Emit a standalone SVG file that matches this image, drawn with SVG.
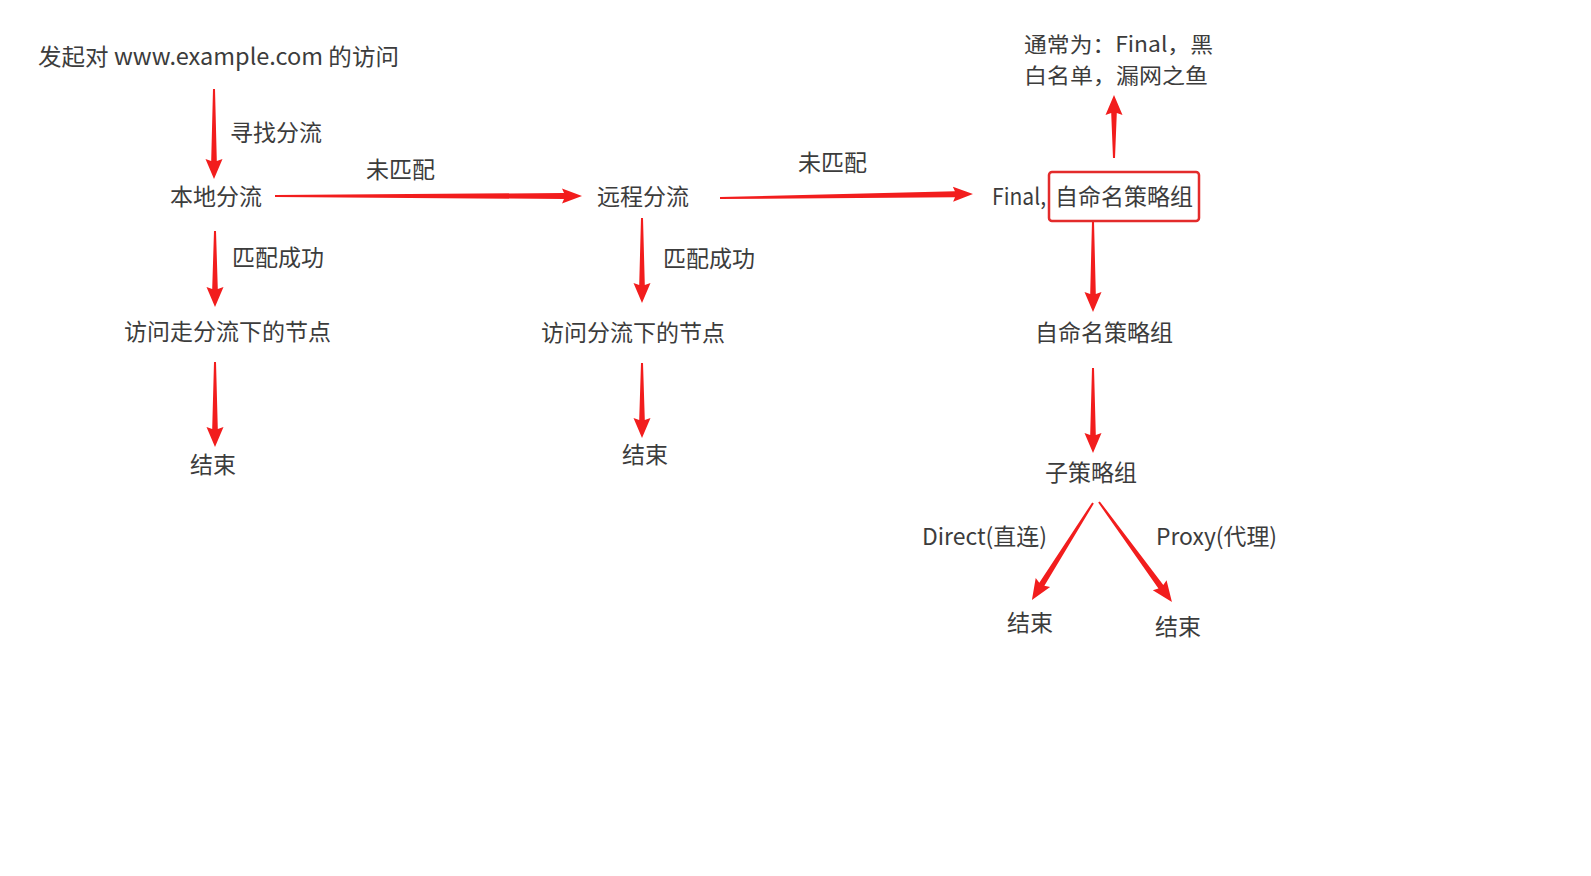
<svg xmlns="http://www.w3.org/2000/svg" width="1591" height="876" viewBox="0 0 1591 876">
<style>
text{font-family:"Noto Sans CJK SC","Microsoft YaHei",sans-serif;font-size:23px;fill:#3c3c3c}
.note{font-size:21px}
.arr{fill:#f21d1d}
</style>
<rect width="1591" height="876" fill="#fff"/>
<g id="connectors">
<polygon class="arr" transform="translate(214,89) rotate(90)" points="0,-1 72,-2.8 70,-8.5 90,0 70,8.5 72,2.8 0,1"/>
<polygon class="arr" transform="translate(275,196)" points="0,-1 289,-3 287,-7.5 307,0 287,7.5 289,3 0,1"/>
<polygon class="arr" transform="translate(720,198) rotate(-0.9)" points="0,-1 235,-3 233,-7.5 253,0 233,7.5 235,3 0,1"/>
<polygon class="arr" transform="translate(215,231) rotate(90)" points="0,-1 58,-2.8 56,-8.5 76,0 56,8.5 58,2.8 0,1"/>
<polygon class="arr" transform="translate(215,362) rotate(90)" points="0,-1 67,-2.8 65,-8.5 85,0 65,8.5 67,2.8 0,1"/>
<polygon class="arr" transform="translate(642,218) rotate(90)" points="0,-1 67,-2.8 65,-8.5 85,0 65,8.5 67,2.8 0,1"/>
<polygon class="arr" transform="translate(642,363) rotate(90)" points="0,-1 57,-2.8 55,-8.5 75,0 55,8.5 57,2.8 0,1"/>
<polygon class="arr" transform="translate(1114,158) rotate(-90)" points="0,-1 45,-2.8 43,-8.5 63,0 43,8.5 45,2.8 0,1"/>
<polygon class="arr" transform="translate(1093,221) rotate(90)" points="0,-1 73,-2.8 71,-8.5 91,0 71,8.5 73,2.8 0,1"/>
<polygon class="arr" transform="translate(1093,368) rotate(90)" points="0,-1 67,-2.8 65,-8.5 85,0 65,8.5 67,2.8 0,1"/>
<polygon class="arr" transform="translate(1093,503) rotate(122.2)" points="0,-1 96,-3 94,-8.5 114.6,0 94,8.5 96,3 0,1"/>
<polygon class="arr" transform="translate(1099,502) rotate(53.9)" points="0,-1 105,-3 103,-8.5 123.8,0 103,8.5 105,3 0,1"/>
</g>
<g id="start"><text x="38" y="65" textLength="361" lengthAdjust="spacingAndGlyphs">发起对 www.example.com 的访问</text></g>
<g id="label-find"><text x="230" y="141">寻找分流</text></g>
<g id="local"><text x="170" y="205">本地分流</text></g>
<g id="label-nomatch1"><text x="366" y="178">未匹配</text></g>
<g id="remote"><text x="597" y="205">远程分流</text></g>
<g id="label-nomatch2"><text x="798" y="171">未匹配</text></g>
<g id="final">
<text x="992" y="205" textLength="54" lengthAdjust="spacingAndGlyphs">Final,</text>
<rect x="1049" y="172" width="150" height="49" rx="3" fill="none" stroke="#e32b2b" stroke-width="2.5"/>
<text x="1055" y="205">自命名策略组</text>
</g>
<g id="note"><text class="note" x="1024" y="52" textLength="189" lengthAdjust="spacingAndGlyphs">通常为：Final，黑</text><text class="note" x="1024" y="83" textLength="184" lengthAdjust="spacingAndGlyphs">白名单，漏网之鱼</text></g>
<g id="label-match1"><text x="232" y="266">匹配成功</text></g>
<g id="local-node"><text x="124" y="340">访问走分流下的节点</text></g>
<g id="end1"><text x="190" y="473">结束</text></g>
<g id="label-match2"><text x="663" y="267">匹配成功</text></g>
<g id="remote-node"><text x="541" y="341">访问分流下的节点</text></g>
<g id="end2"><text x="622" y="463">结束</text></g>
<g id="custom-group"><text x="1035" y="341">自命名策略组</text></g>
<g id="sub-group"><text x="1045" y="481">子策略组</text></g>
<g id="label-direct"><text x="922" y="545" textLength="125" lengthAdjust="spacingAndGlyphs">Direct(直连)</text></g>
<g id="label-proxy"><text x="1156" y="545" textLength="121" lengthAdjust="spacingAndGlyphs">Proxy(代理)</text></g>
<g id="end3"><text x="1007" y="631">结束</text></g>
<g id="end4"><text x="1155" y="635">结束</text></g>
</svg>
